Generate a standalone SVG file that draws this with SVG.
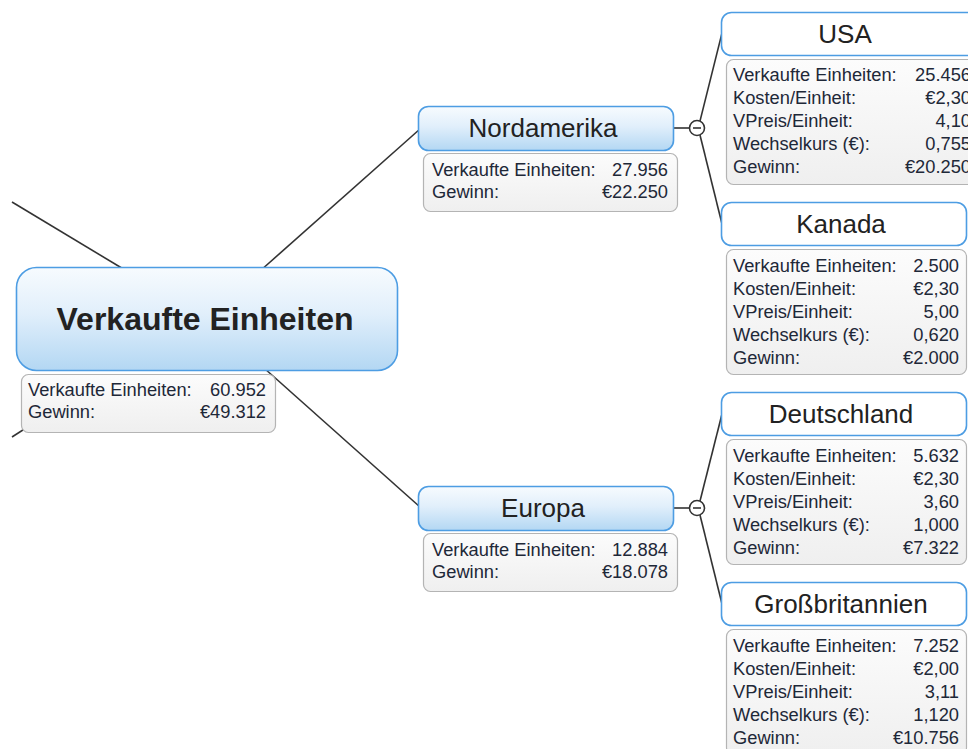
<svg xmlns="http://www.w3.org/2000/svg" width="968" height="749" viewBox="0 0 968 749">
<defs>
<linearGradient id="gBlue" x1="0" y1="0" x2="0" y2="1">
<stop offset="0" stop-color="#f7fbfe"/>
<stop offset="0.45" stop-color="#e1effb"/>
<stop offset="1" stop-color="#b3d7f3"/>
</linearGradient>
<linearGradient id="gInfo" x1="0" y1="0" x2="0" y2="1">
<stop offset="0" stop-color="#fcfcfc"/>
<stop offset="1" stop-color="#efefef"/>
</linearGradient>
</defs>
<style>
.con{stroke:#333;stroke-width:1.6;fill:none}
.main{fill:url(#gBlue);stroke:#4d9de3;stroke-width:1.6}
.sub{fill:url(#gBlue);stroke:#4d9de3;stroke-width:1.6}
.leaf{fill:#fff;stroke:#4d9de3;stroke-width:1.6}
.info{fill:url(#gInfo);stroke:#b4b4b4;stroke-width:1.2}
.ttl{font-family:"Liberation Sans",Arial,sans-serif;fill:#222;text-anchor:middle}
.t0{font-size:32px;font-weight:bold}
.t1{font-size:26px}
.lb{font-family:"Liberation Sans",Arial,sans-serif;font-size:18.3px;fill:#1e2838}
.val{font-family:"Liberation Sans",Arial,sans-serif;font-size:18.3px;fill:#1e2838;text-anchor:end}
.col{fill:#fff;stroke:#333;stroke-width:1.6}
</style>
<g id="connectors">
<line class="con" x1="12" y1="202" x2="125" y2="270"/>
<line class="con" x1="12" y1="437" x2="40" y2="419"/>
<line class="con" x1="260" y1="271" x2="420" y2="129"/>
<line class="con" x1="264" y1="368" x2="420" y2="507"/>
<line class="con" x1="673" y1="128" x2="690" y2="128"/>
<line class="con" x1="700" y1="121" x2="722" y2="33"/>
<line class="con" x1="700" y1="135" x2="722" y2="224"/>
<line class="con" x1="673" y1="508" x2="690" y2="508"/>
<line class="con" x1="700" y1="501" x2="722" y2="414"/>
<line class="con" x1="700" y1="515" x2="722" y2="604"/>
</g>
<g id="node-root">
<rect class="main" x="16.5" y="267.5" width="381" height="103" rx="20"/>
<text class="ttl t0" x="205" y="330">Verkaufte Einheiten</text>
<rect class="info" x="21.5" y="374.5" width="254" height="58" rx="7"/>
<text class="lb" x="28" y="396">Verkaufte Einheiten:</text>
<text class="val" x="266" y="396">60.952</text>
<text class="lb" x="28" y="418">Gewinn:</text>
<text class="val" x="266" y="418">€49.312</text>
</g>
<g id="node-nordamerika">
<rect class="sub" x="418.5" y="106.5" width="255" height="44" rx="10"/>
<text class="ttl t1" x="543" y="137">Nordamerika</text>
<rect class="info" x="423.5" y="153.5" width="254" height="58" rx="7"/>
<text class="lb" x="432" y="176">Verkaufte Einheiten:</text>
<text class="val" x="668" y="176">27.956</text>
<text class="lb" x="432" y="198">Gewinn:</text>
<text class="val" x="668" y="198">€22.250</text>
<circle class="col" cx="697" cy="128" r="7.5"/>
<line x1="693" y1="128" x2="701" y2="128" stroke="#333" stroke-width="1.6"/>
</g>
<g id="node-europa">
<rect class="sub" x="418.5" y="486.5" width="255" height="44" rx="10"/>
<text class="ttl t1" x="543" y="517">Europa</text>
<rect class="info" x="423.5" y="533.5" width="254" height="58" rx="7"/>
<text class="lb" x="432" y="556">Verkaufte Einheiten:</text>
<text class="val" x="668" y="556">12.884</text>
<text class="lb" x="432" y="578">Gewinn:</text>
<text class="val" x="668" y="578">€18.078</text>
<circle class="col" cx="697" cy="508" r="7.5"/>
<line x1="693" y1="508" x2="701" y2="508" stroke="#333" stroke-width="1.6"/>
</g>
<g id="node-usa">
<rect class="leaf" x="721.5" y="12.5" width="262" height="43" rx="10"/>
<text class="ttl t1" x="845" y="43">USA</text>
<rect class="info" x="726.5" y="59.5" width="255" height="125" rx="7"/>
<text class="lb" x="733" y="81">Verkaufte Einheiten:</text>
<text class="val" x="971" y="81">25.456</text>
<text class="lb" x="733" y="104">Kosten/Einheit:</text>
<text class="val" x="971" y="104">€2,30</text>
<text class="lb" x="733" y="127">VPreis/Einheit:</text>
<text class="val" x="971" y="127">4,10</text>
<text class="lb" x="733" y="150">Wechselkurs (€):</text>
<text class="val" x="971" y="150">0,755</text>
<text class="lb" x="733" y="173">Gewinn:</text>
<text class="val" x="971" y="173">€20.250</text>
</g>
<g id="node-kanada">
<rect class="leaf" x="721.5" y="202.5" width="245" height="43" rx="10"/>
<text class="ttl t1" x="841" y="233">Kanada</text>
<rect class="info" x="726.5" y="249.5" width="240" height="125" rx="7"/>
<text class="lb" x="733" y="272">Verkaufte Einheiten:</text>
<text class="val" x="959" y="272">2.500</text>
<text class="lb" x="733" y="295">Kosten/Einheit:</text>
<text class="val" x="959" y="295">€2,30</text>
<text class="lb" x="733" y="318">VPreis/Einheit:</text>
<text class="val" x="959" y="318">5,00</text>
<text class="lb" x="733" y="341">Wechselkurs (€):</text>
<text class="val" x="959" y="341">0,620</text>
<text class="lb" x="733" y="364">Gewinn:</text>
<text class="val" x="959" y="364">€2.000</text>
</g>
<g id="node-deutschland">
<rect class="leaf" x="721.5" y="392.5" width="245" height="43" rx="10"/>
<text class="ttl t1" x="841" y="423">Deutschland</text>
<rect class="info" x="726.5" y="439.5" width="240" height="125" rx="7"/>
<text class="lb" x="733" y="462">Verkaufte Einheiten:</text>
<text class="val" x="959" y="462">5.632</text>
<text class="lb" x="733" y="485">Kosten/Einheit:</text>
<text class="val" x="959" y="485">€2,30</text>
<text class="lb" x="733" y="508">VPreis/Einheit:</text>
<text class="val" x="959" y="508">3,60</text>
<text class="lb" x="733" y="531">Wechselkurs (€):</text>
<text class="val" x="959" y="531">1,000</text>
<text class="lb" x="733" y="554">Gewinn:</text>
<text class="val" x="959" y="554">€7.322</text>
</g>
<g id="node-grossbritannien">
<rect class="leaf" x="721.5" y="582.5" width="245" height="43" rx="10"/>
<text class="ttl t1" x="841" y="613">Großbritannien</text>
<rect class="info" x="726.5" y="629.5" width="240" height="125" rx="7"/>
<text class="lb" x="733" y="652">Verkaufte Einheiten:</text>
<text class="val" x="959" y="652">7.252</text>
<text class="lb" x="733" y="675">Kosten/Einheit:</text>
<text class="val" x="959" y="675">€2,00</text>
<text class="lb" x="733" y="698">VPreis/Einheit:</text>
<text class="val" x="959" y="698">3,11</text>
<text class="lb" x="733" y="721">Wechselkurs (€):</text>
<text class="val" x="959" y="721">1,120</text>
<text class="lb" x="733" y="744">Gewinn:</text>
<text class="val" x="959" y="744">€10.756</text>
</g>
</svg>
